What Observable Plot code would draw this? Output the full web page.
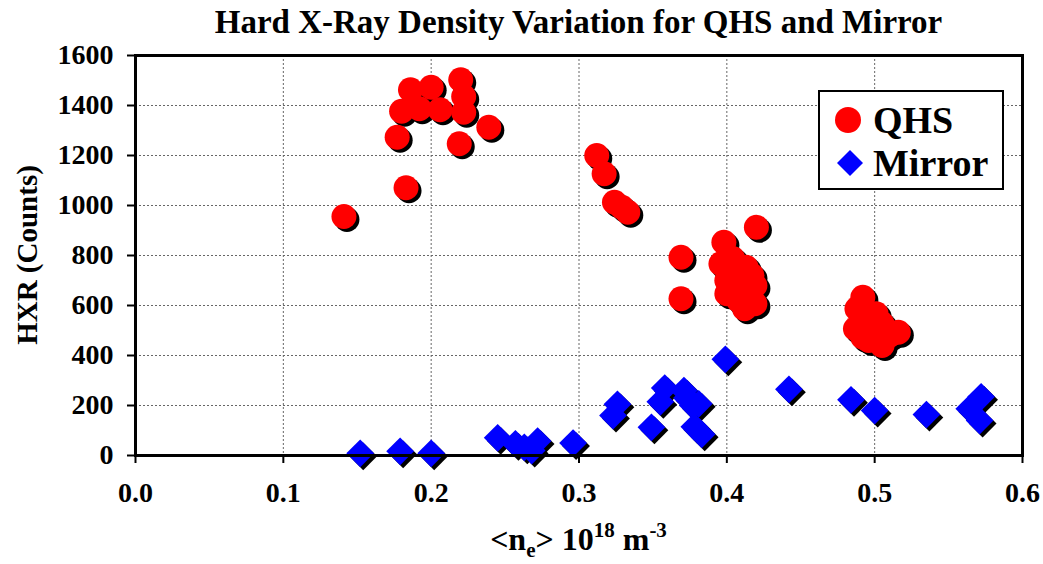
<!DOCTYPE html>
<html>
<head>
<meta charset="utf-8">
<script src="https://cdn.jsdelivr.net/npm/d3@7"></script>
<script src="https://cdn.jsdelivr.net/npm/@observablehq/plot@0.6"></script>
<style>
  html, body { margin: 0; padding: 0; background: #fff; }
  #chart { width: 1043px; height: 564px; }
</style>
</head>
<body>
<div id="chart"></div>
<script>
// ---- data ----
const qhsX = [0.141, 0.183, 0.177, 0.180, 0.186, 0.192, 0.200, 0.206, 0.220, 0.222, 0.222, 0.219, 0.239,
              0.312, 0.317, 0.324, 0.329, 0.333, 0.369, 0.369,
              0.420, 0.398, 0.396, 0.404, 0.413, 0.417, 0.419, 0.400, 0.400, 0.408, 0.419, 0.412, 0.404, 0.411,
              0.492, 0.488, 0.487, 0.496, 0.496, 0.505, 0.510, 0.516, 0.505, 0.492, 0.501];
const qhsY = [956, 1071, 1273, 1377, 1463, 1387, 1473, 1383, 1503, 1436, 1373, 1247, 1313,
              1200, 1127, 1013, 993, 973, 793, 627,
              913, 853, 767, 788, 753, 720, 680, 700, 647, 620, 607, 587, 680, 713,
              633, 587, 507, 540, 460, 527, 480, 493, 440, 473, 567];
const mirrorX = [0.152, 0.179, 0.200, 0.245, 0.257, 0.263, 0.268, 0.272, 0.296,
                 0.323, 0.326, 0.349, 0.355, 0.358, 0.371, 0.373, 0.377, 0.378, 0.383, 0.381,
                 0.399, 0.442, 0.484, 0.500, 0.535, 0.564, 0.571, 0.572];
const mirrorY = [9, 17, 9, 71, 47, 33, 20, 58, 50,
                 160, 205, 113, 215, 270, 260, 230, 200, 115, 85, 207,
                 385, 265, 223, 180, 164, 187, 140, 235];
const xTicks = [0.0, 0.1, 0.2, 0.3, 0.4, 0.5, 0.6];
const yTicks = [0, 200, 400, 600, 800, 1000, 1200, 1400, 1600];
const seriesNames = ["QHS", "Mirror"];
const titleText = "Hard X-Ray Density Variation for QHS and Mirror";
const yLabel = "HXR (Counts)";

const qhs = qhsX.map((x, i) => ({x, y: qhsY[i]}));
const mirror = mirrorX.map((x, i) => ({x, y: mirrorY[i]}));

const font = "'Liberation Serif', 'Times New Roman', serif";

const plot = Plot.plot({
  width: 1043,
  height: 564,
  marginLeft: 135,
  marginRight: 21,
  marginTop: 55,
  marginBottom: 109,
  style: {fontFamily: font, fontSize: "28px", fontWeight: "bold", background: "white", color: "black"},
  x: {domain: [0, 0.6]},
  y: {domain: [0, 1600]},
  marks: [
    Plot.gridX(xTicks, {stroke: "#666", strokeOpacity: 1, strokeDasharray: "2,2", strokeWidth: 1}),
    Plot.gridY(yTicks, {stroke: "#666", strokeOpacity: 1, strokeDasharray: "2,2", strokeWidth: 1}),
    Plot.axisX(xTicks, {tickSize: 8, tickPadding: 19, tickFormat: d3.format(".1f"), label: null, strokeWidth: 2, fontWeight: "bold"}),
    Plot.axisY(yTicks, {tickSize: 8, tickPadding: 14, tickFormat: d3.format("d"), label: null, strokeWidth: 2, fontWeight: "bold"}),
    // shadows
    Plot.dot(qhs, {x: "x", y: "y", r: 12.5, fill: "black", dx: 3, dy: 3}),
    Plot.dot(mirror, {x: "x", y: "y", r: 12.5, symbol: "diamond2", fill: "black", dx: 3, dy: 3}),
    // points
    Plot.dot(qhs, {x: "x", y: "y", r: 12.5, fill: "#ff0000"}),
    Plot.dot(mirror, {x: "x", y: "y", r: 12.5, symbol: "diamond2", fill: "#0000ff"}),
    Plot.frame({stroke: "black", strokeWidth: 3})
  ]
});

document.getElementById("chart").appendChild(plot);

// ---- titles, labels and legend ----
const svg = d3.select(plot);
const W = 1043;
const fLeft = 135, fRight = W - 21, fTop = 55, fBottom = 564 - 109;
const cx = (fLeft + fRight) / 2;

svg.append("text")
  .attr("x", cx).attr("y", 33)
  .attr("text-anchor", "middle")
  .style("font-family", font).style("font-size", "33px").style("font-weight", "bold")
  .text(titleText);

svg.append("text")
  .attr("transform", `translate(37, ${(fTop + fBottom) / 2}) rotate(-90)`)
  .attr("text-anchor", "middle")
  .style("font-family", font).style("font-size", "29px").style("font-weight", "bold")
  .text(yLabel);

const xl = svg.append("text")
  .attr("x", cx).attr("y", 550)
  .attr("text-anchor", "middle")
  .style("font-family", font).style("font-size", "32px").style("font-weight", "bold");
xl.append("tspan").text("<n");
xl.append("tspan").attr("dy", 7).style("font-size", "21px").text("e");
xl.append("tspan").attr("dy", -7).text("> 10");
xl.append("tspan").attr("dy", -13).style("font-size", "21px").text("18");
xl.append("tspan").attr("dy", 13).text(" m");
xl.append("tspan").attr("dy", -13).style("font-size", "21px").text("-3");

// legend
const lg = svg.append("g");
lg.append("rect").attr("x", 819).attr("y", 91).attr("width", 184).attr("height", 98)
  .attr("fill", "white").attr("stroke", "black").attr("stroke-width", 2);
lg.append("circle").attr("cx", 848).attr("cy", 120).attr("r", 13).attr("fill", "#ff0000");
lg.append("path").attr("transform", "translate(850,163)")
  .attr("d", "M0,-13L13,0L0,13L-13,0Z").attr("fill", "#0000ff");
[120, 163].forEach((yy, i) => {
  lg.append("text").attr("x", 873).attr("y", yy).attr("dy", "0.35em")
    .attr("text-anchor", "start")
    .style("font-family", font).style("font-size", "38px").style("font-weight", "bold")
    .text(seriesNames[i]);
});
</script>
</body>
</html>
